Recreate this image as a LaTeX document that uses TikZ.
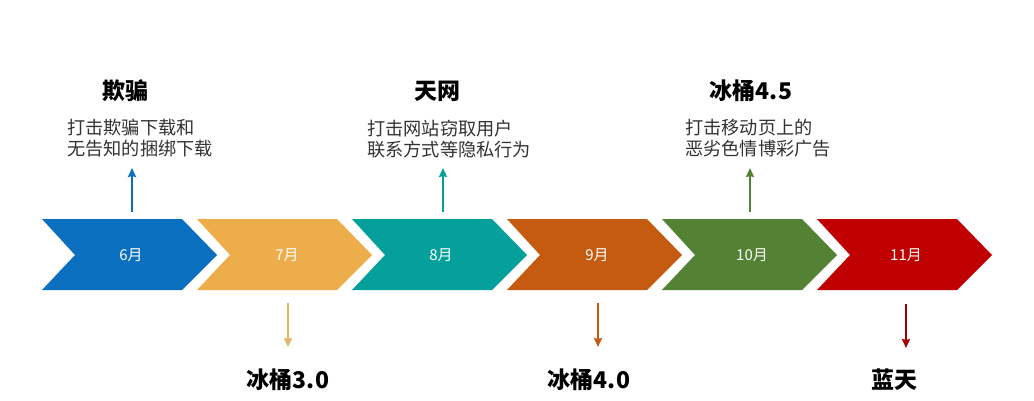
\documentclass[tikz,border=0pt]{standalone}
\usepackage{fontspec}
\setmainfont{Noto Sans CJK SC}
\usetikzlibrary{arrows.meta}
\definecolor{cA}{HTML}{0B6FBF}
\definecolor{cB}{HTML}{EEAD4B}
\definecolor{cBa}{HTML}{E3B862}
\definecolor{cC}{HTML}{05A09B}
\definecolor{cD}{HTML}{C55A11}
\definecolor{cE}{HTML}{548235}
\definecolor{cF}{HTML}{C00000}
\definecolor{descgray}{HTML}{333333}
\tikzset{
  month/.style={text=white, font=\fontsize{15}{17}\selectfont, inner sep=0pt},
  title/.style={font=\fontsize{23}{26}\selectfont\bfseries, text=black, inner sep=0pt},
  desc/.style={font=\fontsize{18.2}{20.5}\selectfont, text=descgray, align=left, anchor=west, inner sep=0pt},
  conn/.style={line width=2.4pt, -{Stealth[length=9pt,width=8pt,inset=1pt]}},
}
\newcommand{\chev}[2]{%
  \fill[#2] (#1,219) -- ++(140,0) -- ++(35,36) -- ++(-35,35) -- ++(-140,0) -- ++(33,-35) -- cycle;}
\begin{document}
\begin{tikzpicture}[x=1pt,y=-1pt]
\useasboundingbox (0,0) rectangle (1034,400);
\fill[white] (0,0) rectangle (1034,400);
% chevrons
\chev{42}{cA}
\chev{197}{cB}
\chev{352}{cC}
\chev{507}{cD}
\chev{662}{cE}
\chev{817}{cF}
\node[month] (m6) at (131,255) {6月};
\node[month] (m7) at (287,255) {7月};
\node[month] (m8) at (441,255) {8月};
\node[month] (m9) at (597,255) {9月};
\node[month] (m10) at (752,255) {10月};
\node[month] (m11) at (906,255) {11月};
% upper labels
\node[title] (t6) at (125,91) {欺骗};
\node[desc] (d6) at (67,138) {打击欺骗下载和\\无告知的捆绑下载};
\node[title] (t8) at (437,91) {天网};
\node[desc] (d8) at (367,139) {打击网站窃取用户\\联系方式等隐私行为};
\node[title] (t10) at (751,91) {冰桶4.5};
\node[desc] (d10) at (685,138) {打击移动页上的\\恶劣色情博彩广告};
% lower labels
\node[title] (b7) at (288,380) {冰桶3.0};
\node[title] (b9) at (589,380) {冰桶4.0};
\node[title] (b11) at (894,380) {蓝天};
% connector coordinates
\coordinate (u6s) at (132,212); \coordinate (u6e) at (132,168);
\coordinate (u8s) at (443,212); \coordinate (u8e) at (443,168);
\coordinate (u10s) at (750,212); \coordinate (u10e) at (750,168);
\coordinate (l7s) at (288,303); \coordinate (l7e) at (288,347);
\coordinate (l9s) at (598,303); \coordinate (l9e) at (598,347);
\coordinate (l11s) at (906,304); \coordinate (l11e) at (906,348);
\draw[conn, cA] (u6s) -- (u6e);
\draw[conn, cC] (u8s) -- (u8e);
\draw[conn, cE] (u10s) -- (u10e);
\draw[conn, cBa] (l7s) -- (l7e);
\draw[conn, cD] (l9s) -- (l9e);
\draw[conn, cF!85!black] (l11s) -- (l11e);
\end{tikzpicture}
\end{document}
